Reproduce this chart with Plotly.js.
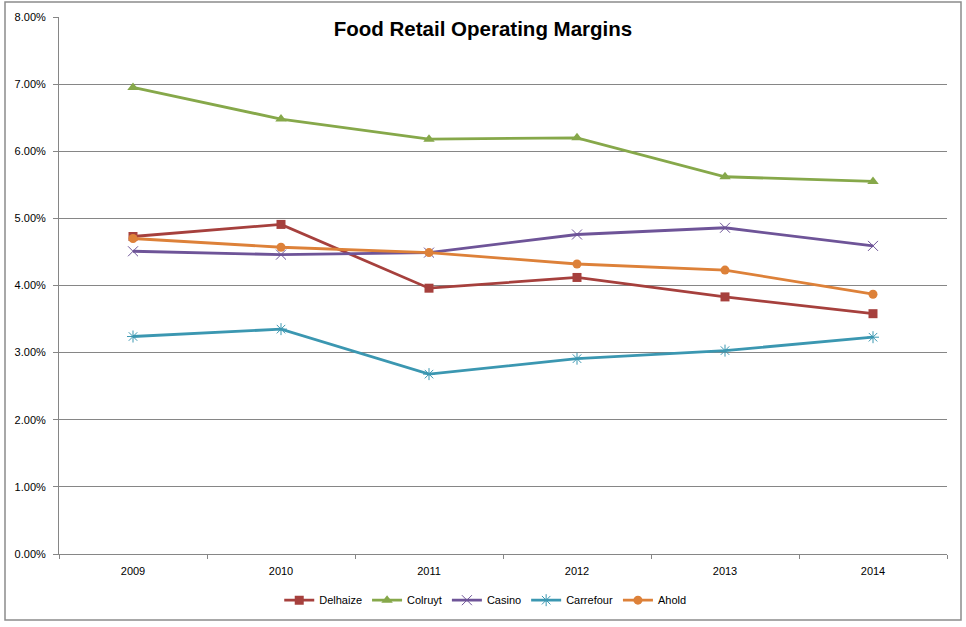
<!DOCTYPE html>
<html>
<head>
<meta charset="utf-8">
<script src="https://cdn.plot.ly/plotly-3.0.1.min.js"></script>
<style>
html,body{margin:0;padding:0;background:#ffffff;}
#chart{width:966px;height:627px;}
</style>
</head>
<body>
<div id="chart"></div>
<script>
const years = ['2009', '2010', '2011', '2012', '2013', '2014'];
const delhaize  = [4.73, 4.91, 3.96, 4.12, 3.83, 3.58];
const colruyt   = [6.95, 6.48, 6.18, 6.20, 5.62, 5.55];
const casino    = [4.51, 4.46, 4.49, 4.76, 4.86, 4.59];
const carrefour = [3.24, 3.35, 2.68, 2.91, 3.03, 3.23];
const ahold     = [4.70, 4.57, 4.49, 4.32, 4.23, 3.87];
const yTicks = [0, 1, 2, 3, 4, 5, 6, 7, 8];
const yTickText = yTicks.map(v => v.toFixed(2) + '%');

function series(name, y, color, symbol, size, open) {
  return {
    type: 'scatter', mode: 'lines+markers', name: name, x: years, y: y,
    line: {color: color, width: 2.8},
    marker: open
      ? {symbol: symbol, size: size, color: color, line: {color: color, width: 1}}
      : {symbol: symbol, size: size, color: color, line: {width: 0}},
    hoverinfo: 'x+y+name'
  };
}

const data = [
  series('Delhaize', delhaize, '#A6403D', 'square', 9, false),
  series('Colruyt', colruyt, '#86A84A', 'triangle-up', 10, false),
  series('Casino', casino, '#6E5498', 'x-thin-open', 10, true),
  series('Carrefour', carrefour, '#3B97B1', 'asterisk-open', 10, true),
  series('Ahold', ahold, '#DD8139', 'circle', 9, false)
];

const layout = {
  width: 966, height: 627,
  margin: {l: 59, r: 19, t: 17, b: 73},
  paper_bgcolor: '#ffffff', plot_bgcolor: '#ffffff',
  font: {family: 'Liberation Sans, Arial, sans-serif', size: 11, color: '#000000'},
  title: {
    text: '<b>Food Retail Operating Margins</b>',
    font: {family: 'Liberation Sans, Arial, sans-serif', size: 20.5, color: '#000000'},
    x: 0.5, xanchor: 'center', xref: 'container',
    y: 1 - 29 / 627, yanchor: 'middle', yref: 'container'
  },
  xaxis: {
    type: 'category', categoryarray: years, range: [-0.5, 5.5],
    showgrid: false, zeroline: false,
    showline: true, linecolor: '#868686', linewidth: 1,
    ticks: 'outside', tickson: 'boundaries', ticklen: 4, tickcolor: '#868686',
    ticklabelstandoff: 7,
    tickfont: {size: 11}, fixedrange: true
  },
  yaxis: {
    range: [0, 8], tickmode: 'array', tickvals: yTicks, ticktext: yTickText,
    showgrid: true, gridcolor: '#868686', gridwidth: 1,
    zeroline: false, showline: true, linecolor: '#868686', linewidth: 1,
    ticks: 'outside', ticklen: 5, tickcolor: '#868686',
    ticklabelstandoff: 5,
    tickfont: {size: 11}, fixedrange: true
  },
  showlegend: true,
  legend: {
    orientation: 'h', x: 0.48, xanchor: 'center', y: -0.086, yanchor: 'middle',
    font: {size: 11}, itemwidth: 30, tracegroupgap: 0, bgcolor: 'rgba(0,0,0,0)'
  },
  shapes: [{
    type: 'rect', xref: 'paper', yref: 'paper',
    x0: (5 - 59) / 888, x1: (961 - 59) / 888,
    y0: (554 - 620) / 537, y1: (554 - 2) / 537,
    line: {color: '#8c8c8c', width: 1.5}, fillcolor: 'rgba(0,0,0,0)', layer: 'below'
  }]
};

Plotly.newPlot('chart', data, layout, {displayModeBar: false, staticPlot: true});
</script>
</body>
</html>
